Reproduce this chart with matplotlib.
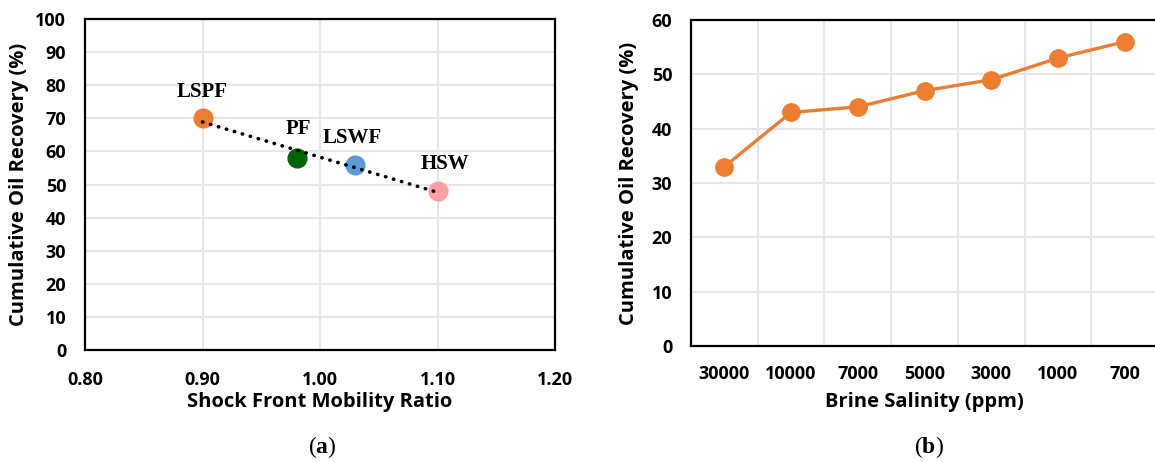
import numpy as np
import matplotlib
matplotlib.use("Agg")
import matplotlib.pyplot as plt
from matplotlib.ticker import FormatStrFormatter

# Panel (a) data
labels_a = ["LSPF", "PF", "LSWF", "HSW"]
mobility_ratio = [0.90, 0.98, 1.03, 1.10]
recovery_a = [70, 58, 56, 48]
colors_a = ["#ED7D31", "#006400", "#5B9BD5", "#FFA0A0"]
label_offsets = [(0, 12), (1, 14), (-2, 12), (5, 12)]

# Panel (b) data
salinity = ["30000", "10000", "7000", "5000", "3000", "1000", "700"]
recovery_b = [33, 43, 44, 47, 49, 53, 56]

W, H = 1155, 462
fig = plt.figure(figsize=(W / 100, H / 100), dpi=100)

plt.rcParams["mathtext.fontset"] = "custom"
plt.rcParams["mathtext.rm"] = "Liberation Serif"
plt.rcParams["mathtext.bf"] = "Liberation Serif:bold"

sans = ["Open Sans", "DejaVu Sans"]
serif = ["Liberation Serif", "DejaVu Serif"]
grid_c = "#E6E6E6"
tick_fs = 13
lab_fs = 14.5

# ---------- Panel (a) ----------
ax1 = fig.add_axes([85 / W, 1 - 350 / H, (555 - 85) / W, (350 - 19) / H])
ax1.set_xlim(0.8, 1.2)
ax1.set_ylim(0, 100)
ax1.set_xticks(np.arange(0.8, 1.21, 0.1))
ax1.set_yticks(np.arange(0, 101, 10))
ax1.xaxis.set_major_formatter(FormatStrFormatter("%.2f"))
ax1.grid(True, color=grid_c, lw=1.5, zorder=0)
ax1.set_axisbelow(True)
for x, y, c in zip(mobility_ratio, recovery_a, colors_a):
    ax1.plot(x, y, "o", ms=13.5, color=c, mec=c, zorder=3)
# linear trendline
coef = np.polyfit(mobility_ratio, recovery_a, 1)
xs = np.array([min(mobility_ratio), max(mobility_ratio)])
ax1.plot(xs, np.polyval(coef, xs), color="black", lw=2.6, ls=(0, (0.1, 2.2)),
         dash_capstyle="round", zorder=4)
for lab, x, y, off in zip(labels_a, mobility_ratio, recovery_a, label_offsets):
    ax1.annotate(lab, (x, y), xytext=off, textcoords="offset points",
                 ha="center", va="bottom", fontsize=15, fontweight="bold",
                 family=serif)
ax1.set_xlabel("Shock Front Mobility Ratio", fontsize=lab_fs, fontweight="bold",
               family=sans, labelpad=2)
ax1.set_ylabel("Cumulative Oil Recovery (%)", fontsize=lab_fs, fontweight="bold",
               family=sans)
ax1.yaxis.set_label_coords((29 - 85) / 470, 0.5)
ax1.tick_params(length=0, pad=13.5, labelsize=tick_fs)
ax1.tick_params(axis="x", pad=15)
for t in ax1.get_xticklabels() + ax1.get_yticklabels():
    t.set_fontweight("bold")
    t.set_family(sans)
for s in ax1.spines.values():
    s.set_linewidth(1.6)
    s.set_color("black")

# ---------- Panel (b) ----------
ax2 = fig.add_axes([691 / W, 1 - 346 / H, 467 / W, (346 - 20) / H])
xb = np.arange(len(salinity))
ax2.set_xlim(-0.5, len(salinity) - 0.5)
ax2.set_ylim(0, 60)
ax2.set_yticks(np.arange(0, 61, 10))
ax2.set_xticks(xb)
ax2.set_xticklabels(salinity)
ax2.set_xticks(np.arange(0.5, len(salinity) - 0.5, 1), minor=True)
ax2.grid(True, which="minor", axis="x", color=grid_c, lw=1.5)
ax2.grid(True, which="major", axis="y", color=grid_c, lw=1.5)
ax2.set_axisbelow(True)
ax2.plot(xb, recovery_b, "-o", color="#ED7D31", lw=2.4, ms=12.5, zorder=3)
ax2.set_xlabel("Brine Salinity (ppm)", fontsize=lab_fs, fontweight="bold",
               family=sans, labelpad=6)
ax2.set_ylabel("Cumulative Oil Recovery (%)", fontsize=lab_fs, fontweight="bold",
               family=sans)
ax2.yaxis.set_label_coords((639 - 691) / 467, 0.5)
ax2.tick_params(which="both", length=0, pad=13.5, labelsize=tick_fs)
ax2.tick_params(axis="x", pad=14)
for t in ax2.get_xticklabels() + ax2.get_yticklabels():
    t.set_fontweight("bold")
    t.set_family(sans)
for s in ax2.spines.values():
    s.set_linewidth(1.6)
    s.set_color("black")

# panel labels
pl_fs = 17
fig.text(322 / W, 1 - 447 / H, r"$\mathrm{(}\mathbf{a}\mathrm{)}$", ha="center",
         va="center", fontsize=pl_fs)
fig.text(929 / W, 1 - 447 / H, r"$\mathrm{(}\mathbf{b}\mathrm{)}$", ha="center",
         va="center", fontsize=pl_fs)

fig.savefig("out.png", dpi=100)
